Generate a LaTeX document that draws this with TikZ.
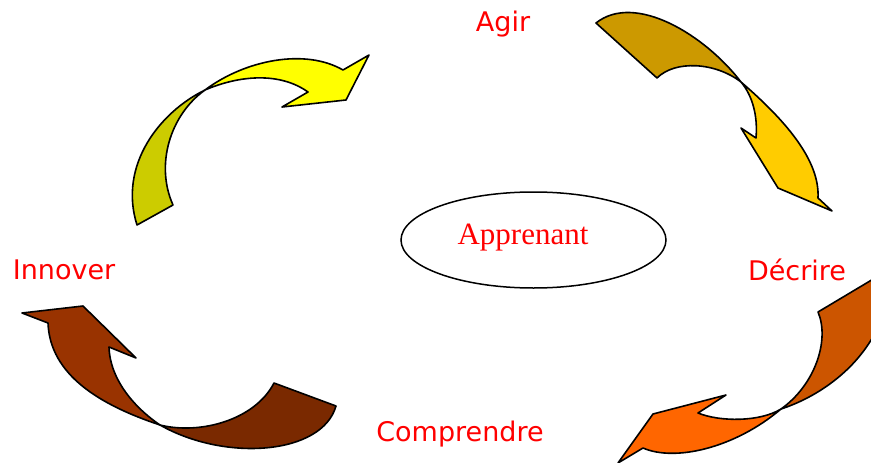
\documentclass[tikz,border=0pt]{standalone}
\usepackage{fontspec}
\newfontfamily\labelfont{DejaVu Sans}
\newfontfamily\apfont{Liberation Serif}
\usetikzlibrary{shapes.geometric}
\definecolor{yfront}{HTML}{FFFF00}
\definecolor{yback}{HTML}{CCCC00}
\definecolor{gfront}{HTML}{FFCC00}
\definecolor{gback}{HTML}{CC9900}
\definecolor{ofront}{HTML}{FF6600}
\definecolor{oback}{HTML}{CC5500}
\definecolor{bfront}{HTML}{993300}
\definecolor{bback}{HTML}{7A2900}
\definecolor{txtred}{HTML}{FF0000}
\begin{document}
\begin{tikzpicture}[x=1pt,y=-1pt,
  ribbon/.style={draw=black,line width=1.6pt,line join=round},
  steplabel/.style={text=txtred,font=\labelfont\fontsize{27}{31}\selectfont,inner sep=0pt},
  centre/.style={draw=black,line width=1.5pt,ellipse,minimum width=265pt,minimum height=96pt,inner sep=0pt}]
\useasboundingbox (0,0) rectangle (871,463);
\clip (0,0) rectangle (871,463);
% yellow arrow (top left)
\filldraw[ribbon,fill=yback] (137,225) -- (173,205)
  .. controls (155,165) and (170,115) .. (205,90)
  .. controls (160,112) and (118,165) .. (137,225) -- cycle;
\filldraw[ribbon,fill=yfront] (205,90)
  .. controls (245,60) and (305,48) .. (343,70)
  -- (369,55) -- (346,100) -- (282,107) -- (308,92)
  .. controls (280,72) and (240,75) .. (205,90) -- cycle;
% gold arrow (top right)
\filldraw[ribbon,fill=gback] (596,23) -- (657,78)
  .. controls (675,60) and (715,62) .. (741,82)
  .. controls (705,35) and (635,-8) .. (596,23) -- cycle;
\filldraw[ribbon,fill=gfront] (741,82)
  .. controls (785,120) and (820,160) .. (818,198)
  -- (832,211) -- (778,188) -- (741,128) -- (756,138)
  .. controls (758,115) and (752,95) .. (741,82) -- cycle;
% orange arrow (bottom right)
\filldraw[ribbon,fill=oback] (818,312) -- (885,272) -- (885,310)
  .. controls (866,368) and (815,398) .. (781,409)
  .. controls (815,385) and (830,340) .. (818,312) -- cycle;
\filldraw[ribbon,fill=ofront] (781,409)
  .. controls (735,448) and (675,462) .. (643,448)
  -- (618,463) -- (653,414) -- (726,395) -- (698,413)
  .. controls (720,422) and (760,422) .. (781,409) -- cycle;
% brown arrow (bottom left)
\filldraw[ribbon,fill=bfront] (160,425)
  .. controls (100,405) and (50,375) .. (48,323)
  -- (22,313) -- (83,306) -- (136,358) -- (109,347)
  .. controls (110,380) and (135,408) .. (160,425) -- cycle;
\filldraw[ribbon,fill=bback] (160,425)
  .. controls (200,435) and (255,420) .. (274,383)
  -- (336,406)
  .. controls (322,455) and (225,462) .. (160,425) -- cycle;
% labels
\node[steplabel] (agir) at (503,24) {Agir};
\node[steplabel] (decrire) at (797,270) {Décrire};
\node[steplabel] (comprendre) at (460,434) {Comprendre};
\node[steplabel] (innover) at (64,270) {Innover};
\node[centre] (apprenant) at (533.5,240) {};
\node[text=txtred,font=\apfont\fontsize{31}{35}\selectfont,anchor=base,inner sep=0pt] (aptext) at (523,244) {Apprenant};
\end{tikzpicture}
\end{document}
